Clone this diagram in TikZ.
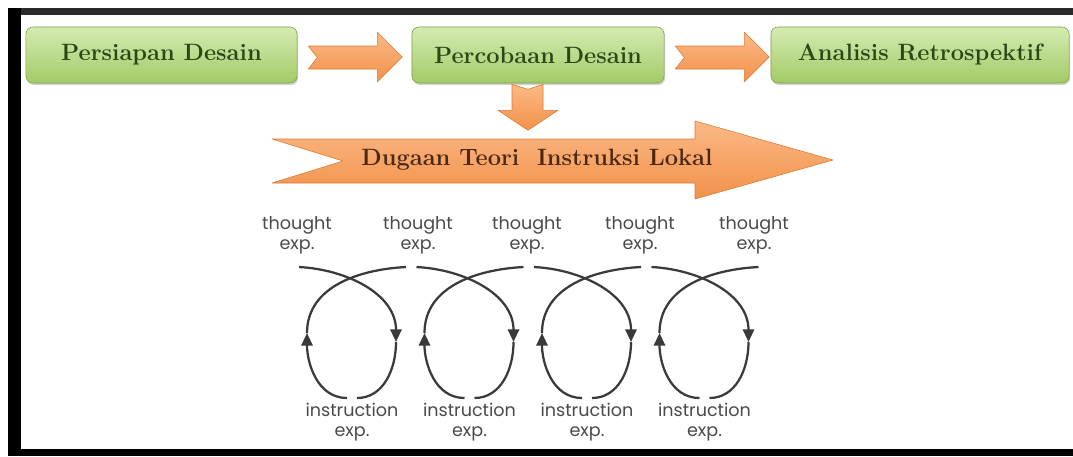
\documentclass[tikz,border=0pt]{standalone}
\usepackage{fontspec}
\newfontfamily\loopfont{Poppins}
\usetikzlibrary{arrows.meta,positioning,shadows}
\definecolor{boxgreen}{HTML}{A2CB66}
\definecolor{boxgreenlight}{HTML}{D5EBB2}
\definecolor{boxgreendark}{HTML}{7AA145}
\definecolor{textgreen}{HTML}{2C4716}
\definecolor{arroworange}{HTML}{F2914A}
\definecolor{arroworangelight}{HTML}{FBB986}
\definecolor{arroworangedark}{HTML}{DE7A33}
\definecolor{textbrown}{HTML}{4B2812}
\definecolor{loopgray}{HTML}{3A3A3A}
\definecolor{labelgray}{HTML}{4A4A4A}
\definecolor{framegray}{HTML}{2B2B2B}

\begin{document}
\begin{tikzpicture}[
        x=0.025cm, y=0.025cm,
        phase/.style={
          draw=boxgreendark,
          rounded corners=5pt,
          top color=boxgreenlight,
          bottom color=boxgreen,
          drop shadow={shadow xshift=0.8pt, shadow yshift=-1.5pt, opacity=0.35},
          minimum height=1.4cm,
          text=textgreen,
          font=\fontsize{16.8}{19}\bfseries
        },
        orange/.style={
          draw=arroworangedark,
          top color=arroworangelight,
          bottom color=arroworange,
          line join=round
        },
        looplabel/.style={
          align=center,
          text=labelgray,
          inner sep=0pt,
          font=\loopfont\fontsize{12.5}{14.2}\selectfont
        },
        loopline/.style={draw=loopgray, line width=1.6pt},
        looptip/.style={-{Triangle[length=9pt,width=8pt]}},
        orangearrow/.pic={
          \path[orange] (11,9) -- (80,9) -- (80,23) -- (105,-2) -- (80,-27)
            -- (80,-14) -- (11,-14) -- (20,-2.5) -- cycle;
        }
      ]
        \useasboundingbox (0,0) rectangle (1073,-456);

        % frame
        \fill[black] (8,-8) rectangle (1073,-456);
        \fill[framegray] (21,-8) -- (1073,-8) -- (1073,-15) -- (21,-15) -- cycle;
        \fill[white] (21,-15) rectangle (1073,-449);

        % phases
        \node[phase, minimum width=6.775cm] (persiapan) at (161.5,-55) {Persiapan Desain};
        \node[phase, minimum width=6.3cm] (percobaan) at (538,-55) {Percobaan Desain};
        \node[phase, minimum width=7.45cm] (analisis) at (920,-55) {Analisis Retrospektif};

        \pic at (persiapan.east) {orangearrow};
        \pic at (percobaan.east) {orangearrow};

        \path[orange, shift={(percobaan.south)}] (-26,-1) -- (-10,-6) -- (5,-1) -- (5,-27)
          -- (20,-27) -- (-10,-47) -- (-40,-27) -- (-26,-27) -- cycle;

        % local instruction theory
        \path[orange] (272,-139) -- (695,-139) -- (695,-121) -- (833,-160) -- (695,-199)
          -- (695,-183) -- (272,-183) -- (343,-161) -- cycle;
        \node[text=textbrown, font=\fontsize{16.8}{19}\bfseries] (dugaan) at (537,-160)
          {Dugaan Teori\ \ Instruksi Lokal};

        % thought and instruction experiments
        \foreach \i/\tx in {1/297, 2/418, 3/527, 4/640, 5/754}
          \node[looplabel] (thought\i) at (\tx,-235) {thought\\exp.};

        \foreach \i/\cx in {1/352, 2/469.5, 3/587, 4/704.5} {
          \draw[loopline, looptip] (\cx-53,-267) to[out=-3, in=90] (\cx+44,-342);
          \draw[loopline] (\cx+44,-342) to[out=-90, in=0] (\cx+5,-398);
          \draw[loopline, looptip] (\cx-5,-398) to[out=180, in=-90] (\cx-45,-333);
          \draw[loopline] (\cx-45,-333) to[out=90, in=183] (\cx+54,-267);
          \node[looplabel] (instruction\i) at (\cx,-422) {instruction\\exp.};
        }
      \end{tikzpicture}
\end{document}
